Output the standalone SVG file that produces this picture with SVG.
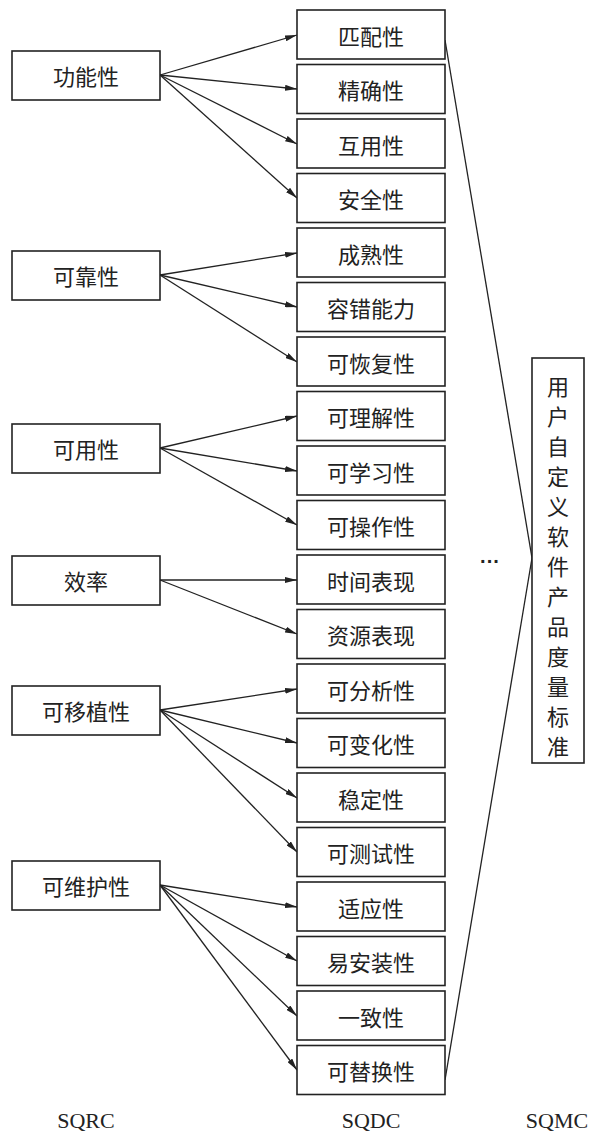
<svg xmlns="http://www.w3.org/2000/svg" width="604" height="1137" viewBox="0 0 604 1137">
<style>
rect{fill:#fff;stroke:#222;stroke-width:1.6}
text{font-family:"Noto Sans CJK SC","Liberation Sans",sans-serif;font-size:22px;fill:#222;text-anchor:middle;dominant-baseline:central}
.lab{font-family:"Liberation Serif",serif;font-size:22px}
line{stroke:#222;stroke-width:1.3}
.a{marker-end:url(#ar)}
</style>
<defs><marker id="ar" viewBox="0 0 12 6" refX="12" refY="3" markerWidth="12" markerHeight="6" markerUnits="userSpaceOnUse" orient="auto"><path d="M0,0 L12,3 L0,6 z" fill="#222"/></marker></defs>
<rect width="604" height="1137" style="fill:#fff;stroke:none"/>
<g id="connectors">
<line class="a" x1="160" y1="75" x2="297" y2="35"/>
<line class="a" x1="160" y1="75" x2="297" y2="89"/>
<line class="a" x1="160" y1="75" x2="297" y2="144"/>
<line class="a" x1="160" y1="75" x2="297" y2="198"/>
<line class="a" x1="160" y1="275" x2="297" y2="253"/>
<line class="a" x1="160" y1="275" x2="297" y2="307"/>
<line class="a" x1="160" y1="275" x2="297" y2="362"/>
<line class="a" x1="160" y1="448" x2="297" y2="416"/>
<line class="a" x1="160" y1="448" x2="297" y2="471"/>
<line class="a" x1="160" y1="448" x2="297" y2="525"/>
<line class="a" x1="160" y1="580" x2="297" y2="580"/>
<line class="a" x1="160" y1="580" x2="297" y2="634"/>
<line class="a" x1="160" y1="710" x2="297" y2="689"/>
<line class="a" x1="160" y1="710" x2="297" y2="743"/>
<line class="a" x1="160" y1="710" x2="297" y2="798"/>
<line class="a" x1="160" y1="710" x2="297" y2="852"/>
<line class="a" x1="160" y1="885" x2="297" y2="907"/>
<line class="a" x1="160" y1="885" x2="297" y2="961"/>
<line class="a" x1="160" y1="885" x2="297" y2="1016"/>
<line class="a" x1="160" y1="885" x2="297" y2="1070"/>
<line x1="445" y1="40" x2="532" y2="558"/>
<line x1="445" y1="1080" x2="532" y2="558"/>
</g>
<g id="l1"><rect x="12" y="51" width="148" height="49"/><text x="86" y="75">功能性</text></g>
<g id="l2"><rect x="12" y="251" width="148" height="49"/><text x="86" y="275">可靠性</text></g>
<g id="l3"><rect x="12" y="424" width="148" height="49"/><text x="86" y="448">可用性</text></g>
<g id="l4"><rect x="12" y="556" width="148" height="49"/><text x="86" y="580">效率</text></g>
<g id="l5"><rect x="12" y="686" width="148" height="49"/><text x="86" y="710">可移植性</text></g>
<g id="l6"><rect x="12" y="861" width="148" height="49"/><text x="86" y="885">可维护性</text></g>
<g id="m1"><rect x="297" y="10" width="148" height="49"/><text x="371" y="35">匹配性</text></g>
<g id="m2"><rect x="297" y="64.5" width="148" height="49"/><text x="371" y="89">精确性</text></g>
<g id="m3"><rect x="297" y="119" width="148" height="49"/><text x="371" y="144">互用性</text></g>
<g id="m4"><rect x="297" y="173.5" width="148" height="49"/><text x="371" y="198">安全性</text></g>
<g id="m5"><rect x="297" y="228" width="148" height="49"/><text x="371" y="253">成熟性</text></g>
<g id="m6"><rect x="297" y="282.5" width="148" height="49"/><text x="371" y="307">容错能力</text></g>
<g id="m7"><rect x="297" y="337" width="148" height="49"/><text x="371" y="362">可恢复性</text></g>
<g id="m8"><rect x="297" y="391.5" width="148" height="49"/><text x="371" y="416">可理解性</text></g>
<g id="m9"><rect x="297" y="446" width="148" height="49"/><text x="371" y="471">可学习性</text></g>
<g id="m10"><rect x="297" y="500.5" width="148" height="49"/><text x="371" y="525">可操作性</text></g>
<g id="m11"><rect x="297" y="555" width="148" height="49"/><text x="371" y="580">时间表现</text></g>
<g id="m12"><rect x="297" y="609.5" width="148" height="49"/><text x="371" y="634">资源表现</text></g>
<g id="m13"><rect x="297" y="664" width="148" height="49"/><text x="371" y="689">可分析性</text></g>
<g id="m14"><rect x="297" y="718.5" width="148" height="49"/><text x="371" y="743">可变化性</text></g>
<g id="m15"><rect x="297" y="773" width="148" height="49"/><text x="371" y="798">稳定性</text></g>
<g id="m16"><rect x="297" y="827.5" width="148" height="49"/><text x="371" y="852">可测试性</text></g>
<g id="m17"><rect x="297" y="882" width="148" height="49"/><text x="371" y="907">适应性</text></g>
<g id="m18"><rect x="297" y="936.5" width="148" height="49"/><text x="371" y="961">易安装性</text></g>
<g id="m19"><rect x="297" y="991" width="148" height="49"/><text x="371" y="1016">一致性</text></g>
<g id="m20"><rect x="297" y="1045.5" width="148" height="49"/><text x="371" y="1070">可替换性</text></g>
<g id="r1"><rect x="532" y="358" width="52" height="405"/>
<text x="558" y="385">用</text><text x="558" y="415">户</text><text x="558" y="445">自</text><text x="558" y="475">定</text><text x="558" y="505">义</text><text x="558" y="535">软</text><text x="558" y="565">件</text><text x="558" y="595">产</text><text x="558" y="625">品</text><text x="558" y="655">度</text><text x="558" y="685">量</text><text x="558" y="715">标</text><text x="558" y="745">准</text></g>
<text x="490" y="561" style="font-family:'Liberation Sans',sans-serif;font-size:20px;font-weight:bold">···</text>
<text class="lab" x="86" y="1120">SQRC</text>
<text class="lab" x="371" y="1120">SQDC</text>
<text class="lab" x="557" y="1120">SQMC</text>
</svg>
